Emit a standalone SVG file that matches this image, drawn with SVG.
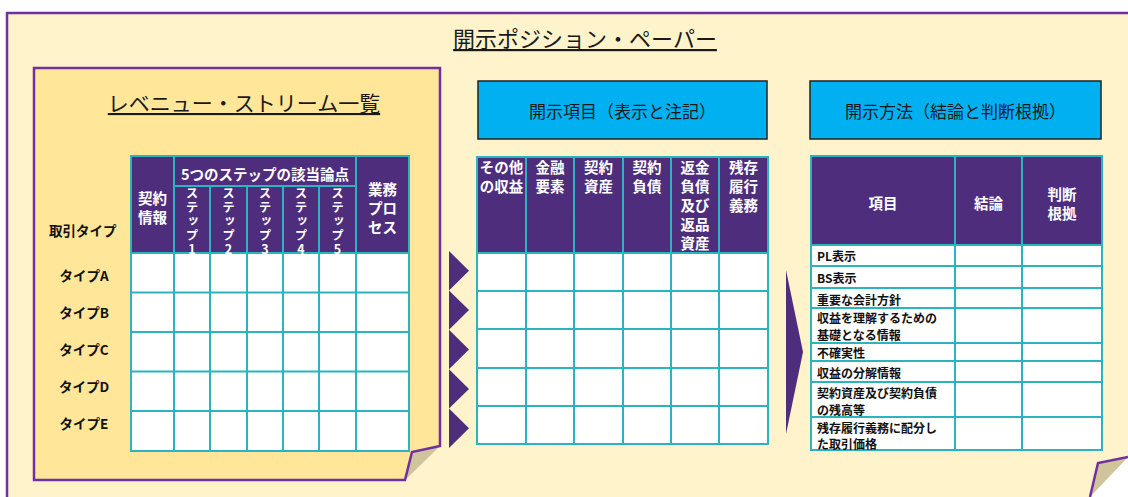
<svg xmlns="http://www.w3.org/2000/svg" width="1128" height="497" viewBox="0 0 1128 497">
<style>
  text{font-family:"Noto Sans CJK JP","Noto Sans",sans-serif;}
  .title{font-size:22px;fill:#1a1a1a;text-decoration:underline;}
  .ltitle{font-size:21px;fill:#1a1a1a;text-decoration:underline;}
  .box{fill:#00B0F0;stroke:#222;stroke-width:1.5;}
  .boxt{font-size:17px;fill:#1a1a1a;}
  .hdr{fill:#4E2D7D;}
  .cell{fill:#ffffff;}
  .grid{stroke:#2BB3C0;stroke-width:2;fill:none;}
  .wh{fill:#ffffff;font-weight:bold;font-size:14.5px;}
  .st{fill:#ffffff;font-weight:bold;font-size:12.5px;writing-mode:vertical-rl;text-orientation:upright;letter-spacing:1.5px;}
  .lbl{fill:#111;font-weight:bold;font-size:13.5px;}
  .rl{fill:#111;font-weight:bold;font-size:12px;}
  .edge{stroke:#7030A0;stroke-width:2.5;fill:none;stroke-linejoin:miter;}
  .fold{fill:#CFC49B;}
  .arr{fill:#4E2D7D;}
</style>
<rect x="0" y="0" width="1128" height="497" fill="#ffffff"/>

<g id="outer-panel">
  <polygon points="7,13 1150,13 1150,433.8 1077.6,510 7,510" fill="#FFF3CC"/>
  <polygon class="fold" points="1128,457 1098,463 1090,497"/>
  <path class="edge" d="M1150,13 L7,13 L7,510"/>
  <path class="edge" d="M1128,457 L1098,463 L1090,497"/>
  <text class="title" x="585" y="47" text-anchor="middle">開示ポジション・ペーパー</text>
</g>

<g id="revenue-stream-panel">
  <polygon points="34,68 440,68 440,446 405,480 34,480" fill="#FFE699"/>
  <polygon class="fold" points="440,446 412,452 405,480"/>
  <path class="edge" d="M440,446 L440,68 L34,68 L34,480 L405,480 L412,452 Z" stroke-width="2.2"/>
  <text class="ltitle" x="244" y="111" text-anchor="middle">レベニュー・ストリーム一覧</text>

  <g id="revenue-table">
    <rect class="hdr" x="131" y="156" width="278" height="97"/>
    <rect class="cell" x="131" y="253" width="278" height="198"/>
    <g class="grid">
      <rect x="131" y="156" width="278" height="295"/>
      <line x1="174" y1="156" x2="174" y2="451"/>
      <line x1="356" y1="156" x2="356" y2="451"/>
      <line x1="174" y1="186" x2="356" y2="186"/>
      <line x1="210" y1="186" x2="210" y2="451"/>
      <line x1="247" y1="186" x2="247" y2="451"/>
      <line x1="283" y1="186" x2="283" y2="451"/>
      <line x1="319" y1="186" x2="319" y2="451"/>
      <line x1="131" y1="253" x2="409" y2="253"/>
      <line x1="131" y1="292.5" x2="409" y2="292.5"/>
      <line x1="131" y1="332" x2="409" y2="332"/>
      <line x1="131" y1="371.5" x2="409" y2="371.5"/>
      <line x1="131" y1="411" x2="409" y2="411"/>
    </g>
    <g text-anchor="middle" dominant-baseline="central">
      <text class="wh"><tspan x="152.5" y="197">契約</tspan><tspan x="152.5" y="216">情報</tspan></text>
      <text class="wh" x="265" y="173">5つのステップの該当論点</text>
      <text class="wh"><tspan x="382.5" y="188">業務</tspan><tspan x="382.5" y="207">プロ</tspan><tspan x="382.5" y="226">セス</tspan></text>
    </g>
    <g>
      <text class="st" x="192" y="187">ステップ1</text>
      <text class="st" x="228.5" y="187">ステップ2</text>
      <text class="st" x="265" y="187">ステップ3</text>
      <text class="st" x="301" y="187">ステップ4</text>
      <text class="st" x="337.5" y="187">ステップ5</text>
    </g>
    <g dominant-baseline="central">
      <text class="lbl" x="49" y="230" font-size="14.5">取引タイプ</text>
      <text class="lbl" x="84" y="275" text-anchor="middle">タイプA</text>
      <text class="lbl" x="84" y="312" text-anchor="middle">タイプB</text>
      <text class="lbl" x="84" y="349" text-anchor="middle">タイプC</text>
      <text class="lbl" x="84" y="386" text-anchor="middle">タイプD</text>
      <text class="lbl" x="84" y="423" text-anchor="middle">タイプE</text>
    </g>
  </g>
</g>

<g id="disclosure-items">
  <rect class="box" x="478" y="81" width="289" height="58"/>
  <text class="boxt" x="622.5" y="110" text-anchor="middle" dominant-baseline="central">開示項目（表示と注記）</text>
  <rect class="hdr" x="477" y="157" width="291" height="96"/>
  <rect class="cell" x="477" y="253" width="291" height="191"/>
  <g class="grid">
    <rect x="477" y="157" width="291" height="287"/>
    <line x1="526" y1="157" x2="526" y2="444"/>
    <line x1="574" y1="157" x2="574" y2="444"/>
    <line x1="623" y1="157" x2="623" y2="444"/>
    <line x1="671" y1="157" x2="671" y2="444"/>
    <line x1="719" y1="157" x2="719" y2="444"/>
    <line x1="477" y1="253" x2="768" y2="253"/>
    <line x1="477" y1="291" x2="768" y2="291"/>
    <line x1="477" y1="329" x2="768" y2="329"/>
    <line x1="477" y1="368" x2="768" y2="368"/>
    <line x1="477" y1="406" x2="768" y2="406"/>
  </g>
  <g text-anchor="middle" dominant-baseline="central">
    <text class="wh" font-size="15"><tspan x="501.5" y="166">その他</tspan><tspan x="501.5" y="185">の収益</tspan></text>
    <text class="wh"><tspan x="550" y="166">金融</tspan><tspan x="550" y="185">要素</tspan></text>
    <text class="wh"><tspan x="598.5" y="166">契約</tspan><tspan x="598.5" y="185">資産</tspan></text>
    <text class="wh"><tspan x="647" y="166">契約</tspan><tspan x="647" y="185">負債</tspan></text>
    <text class="wh"><tspan x="695" y="166">返金</tspan><tspan x="695" y="185">負債</tspan><tspan x="695" y="204">及び</tspan><tspan x="695" y="223">返品</tspan><tspan x="695" y="242">資産</tspan></text>
    <text class="wh"><tspan x="743.5" y="166">残存</tspan><tspan x="743.5" y="185">履行</tspan><tspan x="743.5" y="204">義務</tspan></text>
  </g>
</g>

<g id="disclosure-methods">
  <rect class="box" x="810" y="81" width="291" height="58"/>
  <text class="boxt" x="955.5" y="110" text-anchor="middle" dominant-baseline="central">開示方法（結論と判断根拠）</text>
  <rect class="hdr" x="811" y="156" width="291" height="89"/>
  <rect class="cell" x="811" y="245" width="291" height="205"/>
  <g class="grid">
    <rect x="811" y="156" width="291" height="294"/>
    <line x1="955" y1="156" x2="955" y2="450"/>
    <line x1="1022" y1="156" x2="1022" y2="450"/>
    <line x1="811" y1="245" x2="1102" y2="245"/>
    <line x1="811" y1="266" x2="1102" y2="266"/>
    <line x1="811" y1="288" x2="1102" y2="288"/>
    <line x1="811" y1="308" x2="1102" y2="308"/>
    <line x1="811" y1="343" x2="1102" y2="343"/>
    <line x1="811" y1="361" x2="1102" y2="361"/>
    <line x1="811" y1="382" x2="1102" y2="382"/>
    <line x1="811" y1="417" x2="1102" y2="417"/>
  </g>
  <g text-anchor="middle" dominant-baseline="central">
    <text class="wh" x="883" y="202" font-size="15">項目</text>
    <text class="wh" x="988.5" y="202" font-size="15">結論</text>
    <text class="wh" font-size="15"><tspan x="1062" y="193">判断</tspan><tspan x="1062" y="212">根拠</tspan></text>
  </g>
  <g dominant-baseline="central">
    <text class="rl" x="817" y="255.5">PL表示</text>
    <text class="rl" x="817" y="277.5">BS表示</text>
    <text class="rl" x="817" y="299">重要な会計方針</text>
    <text class="rl"><tspan x="817" y="317">収益を理解するための</tspan><tspan x="817" y="333.5">基礎となる情報</tspan></text>
    <text class="rl" x="817" y="352">不確実性</text>
    <text class="rl" x="817" y="372">収益の分解情報</text>
    <text class="rl"><tspan x="817" y="391.5">契約資産及び契約負債</tspan><tspan x="817" y="408.5">の残高等</tspan></text>
    <text class="rl"><tspan x="817" y="426.5">残存履行義務に配分し</tspan><tspan x="817" y="443">た取引価格</tspan></text>
  </g>
</g>

<g id="connectors">
  <polygon class="arr" points="449,251 469,270.7 449,290.4"/>
  <polygon class="arr" points="449,290.4 469,310.1 449,329.8"/>
  <polygon class="arr" points="449,329.8 469,349.5 449,369.2"/>
  <polygon class="arr" points="449,369.2 469,388.9 449,408.6"/>
  <polygon class="arr" points="449,408.6 469,428.3 449,448"/>
  <polygon class="arr" points="786,270 803,352 786,434"/>
</g>
</svg>
